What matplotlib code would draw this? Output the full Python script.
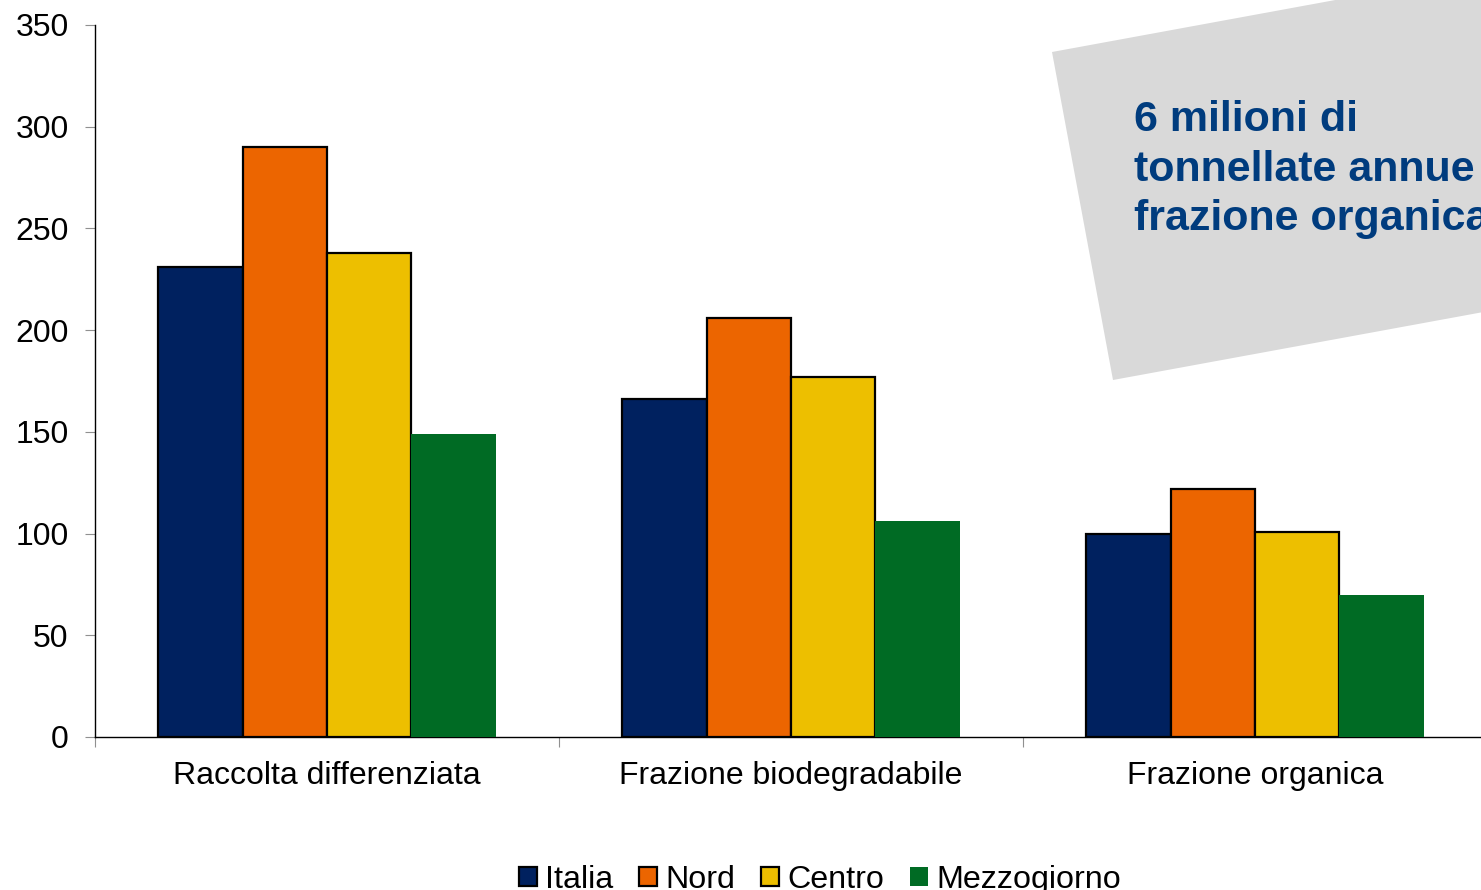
import numpy as np
import matplotlib
matplotlib.use("Agg")
import matplotlib.pyplot as plt
from matplotlib.patches import Polygon, Patch

plt.rcParams['font.family'] = ['Liberation Sans', 'DejaVu Sans']

# dati (kg per abitante)
categorie = ['Raccolta differenziata', 'Frazione biodegradabile', 'Frazione organica']
serie = ['Italia', 'Nord', 'Centro', 'Mezzogiorno']
italia = [231, 166, 100]
nord = [290, 206, 122]
centro = [238, 177, 101]
mezzogiorno = [149, 106, 70]
colori = ['#00215F', '#EC6500', '#EDBF00', '#006B24']
bordi = ['black', 'black', 'black', 'none']

W, H = 1481, 890
fig = plt.figure(figsize=(W / 100, H / 100), dpi=100)
ax = fig.add_axes([95 / W, 1 - 737 / H, 1392 / W, 712 / H])

x = np.arange(len(categorie))
w = 0.182
valori = [italia, nord, centro, mezzogiorno]
for i, v in enumerate(valori):
    ax.bar(x + (i - 1.5) * w, v, w, color=colori[i], edgecolor=bordi[i],
           linewidth=1.6, label=serie[i], zorder=3)

ax.set_xlim(-0.5, 2.5)
ax.set_ylim(0, 350)
ax.set_yticks(range(0, 351, 50))
ax.set_xticks([-0.5, 0.5, 1.5], minor=False)
ax.set_xticklabels([])
ax.set_xticks(x, minor=True)
ax.set_xticklabels(categorie, minor=True)
ax.tick_params(axis='x', which='minor', length=0, pad=17, labelsize=23)
ax.tick_params(axis='x', which='major', length=7, color='#909090', direction='out')
ax.tick_params(axis='y', length=7, color='#909090', pad=12, labelsize=23)
for s in ['top', 'right']:
    ax.spines[s].set_visible(False)
ax.spines['left'].set_linewidth(1)
ax.spines['bottom'].set_linewidth(1)

# riquadro grigio ruotato
def fc(px, py):
    return (px / W, 1 - py / H)

ang = np.deg2rad(10.4)
u = np.array([np.cos(ang), -np.sin(ang)]) * 700
A = np.array([1052, 52])
D = np.array([1113, 380])
pts = [fc(*A), fc(*D), fc(*(D + u)), fc(*(A + u))]
fig.patches.append(Polygon(pts, closed=True, transform=fig.transFigure,
                           facecolor='#D9D9D9', edgecolor='none', zorder=0))
fig.text(1134 / W, 1 - 230 / H, '6 milioni di\ntonnellate annue\nfrazione organica',
         fontsize=31, fontweight='bold', color='#003C7E', va='baseline', ha='left',
         linespacing=1.3)

handles = [Patch(facecolor=colori[i], edgecolor=bordi[i], linewidth=1.6) for i in range(4)]
fig.legend(handles, serie, loc='center', bbox_to_anchor=(820 / W, 1 - 880 / H),
           ncol=4, frameon=False, handlelength=0.56, handleheight=0.56,
           handletextpad=0.25, columnspacing=0.8, fontsize=23.2)

fig.savefig('out.png', dpi=100)
